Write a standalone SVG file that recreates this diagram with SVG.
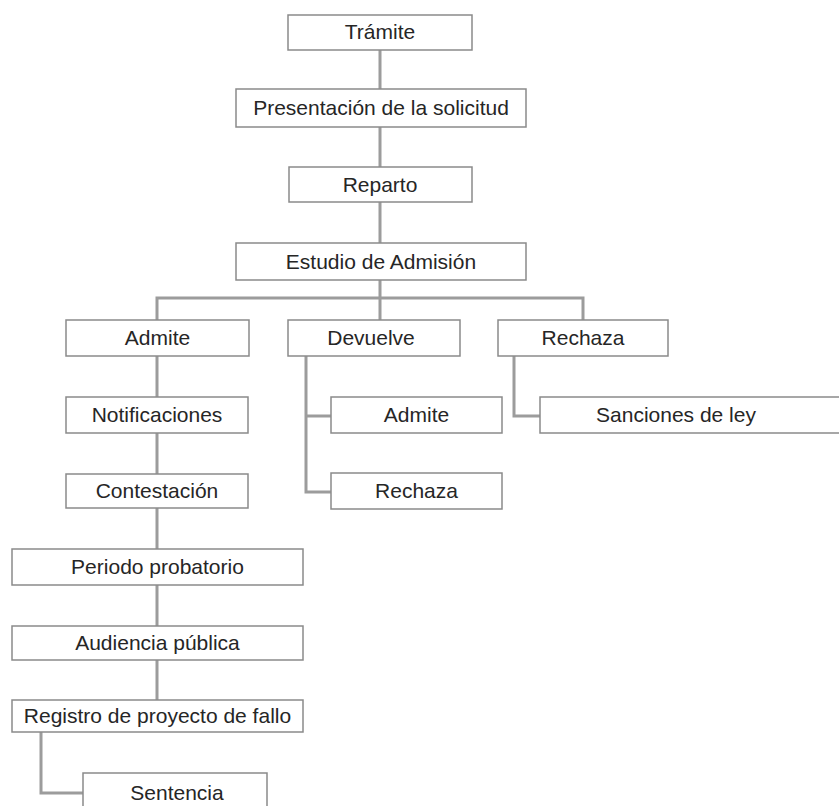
<svg xmlns="http://www.w3.org/2000/svg" width="839" height="806" viewBox="0 0 839 806">
<style>
.box{fill:#fff;stroke:#8a8a8a;stroke-width:1.5}
.lbl{font-family:"Liberation Sans",Arial,sans-serif;font-size:21px;fill:#262626;text-anchor:middle}
.con{fill:none;stroke:#9c9c9c;stroke-width:3}
</style>
<rect width="839" height="806" fill="#fff"/>
<g id="connectors">
<path class="con" d="M380,50V89M380,127V167M380,202V243M380,280V298"/>
<path class="con" d="M157,320V298H583V320M380,298V320"/>
<path class="con" d="M157,356V397M157,433V474M157,508V549M157,585V626M157,660V700"/>
<path class="con" d="M41,732V793H83"/>
<path class="con" d="M306,356V492H331M306,416H331"/>
<path class="con" d="M514,356V416H540"/>
</g>
<g id="tramite"><rect class="box" x="288" y="15" width="184" height="35"/><text class="lbl" x="380" y="39">Trámite</text></g>
<g id="presentacion"><rect class="box" x="236" y="89" width="290" height="38"/><text class="lbl" x="381" y="115">Presentación de la solicitud</text></g>
<g id="reparto"><rect class="box" x="289" y="167" width="183" height="35"/><text class="lbl" x="380" y="191.5">Reparto</text></g>
<g id="estudio"><rect class="box" x="236" y="243" width="290" height="37"/><text class="lbl" x="381" y="268.5">Estudio de Admisión</text></g>
<g id="admite"><rect class="box" x="66" y="320" width="183" height="36"/><text class="lbl" x="157.5" y="345">Admite</text></g>
<g id="devuelve"><rect class="box" x="288" y="320" width="172" height="36"/><text class="lbl" x="371" y="345">Devuelve</text></g>
<g id="rechaza"><rect class="box" x="498" y="320" width="170" height="36"/><text class="lbl" x="583" y="345">Rechaza</text></g>
<g id="notificaciones"><rect class="box" x="66" y="397" width="182" height="36"/><text class="lbl" x="157" y="422">Notificaciones</text></g>
<g id="contestacion"><rect class="box" x="66" y="474" width="182" height="34"/><text class="lbl" x="157" y="498">Contestación</text></g>
<g id="periodo"><rect class="box" x="12" y="549" width="291" height="36"/><text class="lbl" x="157.5" y="574">Periodo probatorio</text></g>
<g id="audiencia"><rect class="box" x="12" y="626" width="291" height="34"/><text class="lbl" x="157.5" y="650">Audiencia pública</text></g>
<g id="registro"><rect class="box" x="12" y="700" width="291" height="32"/><text class="lbl" x="157.5" y="723">Registro de proyecto de fallo</text></g>
<g id="sentencia"><rect class="box" x="83" y="773" width="184" height="40"/><text class="lbl" x="177" y="799.5">Sentencia</text></g>
<g id="admite2"><rect class="box" x="331" y="397" width="171" height="36"/><text class="lbl" x="416.5" y="422">Admite</text></g>
<g id="rechaza2"><rect class="box" x="331" y="473" width="171" height="36"/><text class="lbl" x="416.5" y="498">Rechaza</text></g>
<g id="sanciones"><rect class="box" x="540" y="397" width="305" height="36"/><text class="lbl" x="676" y="422">Sanciones de ley</text></g>
</svg>
